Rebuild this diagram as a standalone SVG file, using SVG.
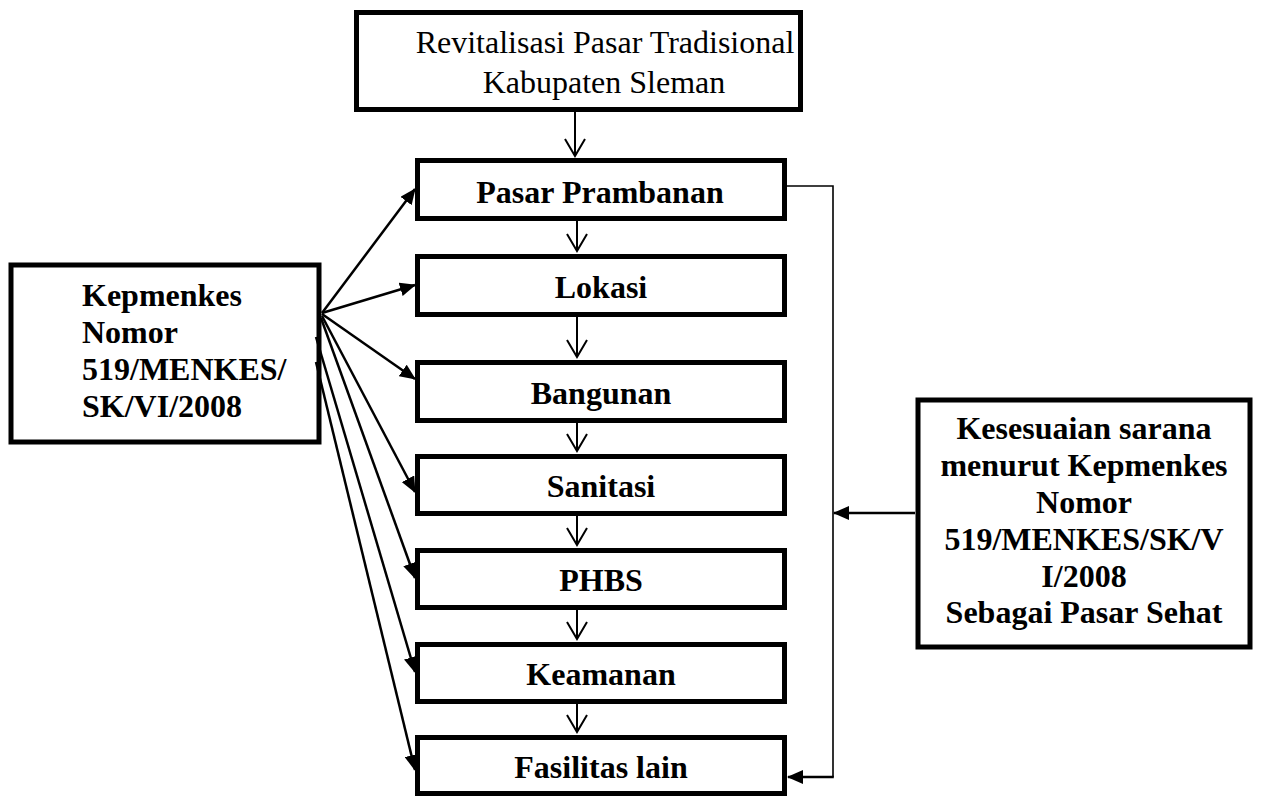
<svg xmlns="http://www.w3.org/2000/svg" width="1262" height="796" viewBox="0 0 1262 796">
<style>
.box{fill:#fff;stroke:#000;stroke-width:5}
.t{font-family:"Liberation Serif","Times New Roman",serif;font-size:32px;fill:#000}
.b{font-weight:bold}
.c{text-anchor:middle}
.fan{stroke:#000;stroke-width:2.5;fill:none;marker-end:url(#fill)}
.dn{stroke:#000;stroke-width:2;fill:none;marker-end:url(#vee)}
</style>
<defs>
<marker id="fill" markerUnits="userSpaceOnUse" viewBox="0 0 16 14" refX="15" refY="7" markerWidth="16" markerHeight="14" orient="auto">
<path d="M0,0 L16,7 L0,14 z" fill="#000"/>
</marker>
<marker id="vee" markerUnits="userSpaceOnUse" viewBox="0 0 20 24" refX="18" refY="12" markerWidth="20" markerHeight="24" orient="auto" overflow="visible">
<path d="M1,2 L18,12 L1,22" fill="none" stroke="#000" stroke-width="2"/>
</marker>
</defs>
<g id="node-top">
<rect class="box" x="356.5" y="12.5" width="444" height="97"/>
<text class="t c" x="605" y="53">Revitalisasi Pasar Tradisional</text>
<text class="t c" x="604" y="93">Kabupaten Sleman</text>
</g>
<g id="node-pasar">
<rect class="box" x="417.5" y="160.5" width="367" height="58"/>
<text class="t b c" x="600" y="203">Pasar Prambanan</text>
</g>
<g id="node-lokasi">
<rect class="box" x="417.5" y="256.5" width="367" height="58"/>
<text class="t b c" x="601" y="298">Lokasi</text>
</g>
<g id="node-bangunan">
<rect class="box" x="417.5" y="362.5" width="367" height="58"/>
<text class="t b c" x="601" y="404">Bangunan</text>
</g>
<g id="node-sanitasi">
<rect class="box" x="417.5" y="456.5" width="367" height="57"/>
<text class="t b c" x="601" y="497">Sanitasi</text>
</g>
<g id="node-phbs">
<rect class="box" x="417.5" y="550.5" width="367" height="57"/>
<text class="t b c" x="601" y="591">PHBS</text>
</g>
<g id="node-keamanan">
<rect class="box" x="417.5" y="644.5" width="367" height="57"/>
<text class="t b c" x="601" y="685">Keamanan</text>
</g>
<g id="node-fasilitas">
<rect class="box" x="417.5" y="737.5" width="367" height="56"/>
<text class="t b c" x="601" y="778">Fasilitas lain</text>
</g>
<g id="node-kepmenkes">
<rect class="box" x="11" y="265" width="308" height="177" stroke-width="5.5"/>
<text class="t b" x="82" y="306">Kepmenkes</text>
<text class="t b" x="82" y="343">Nomor</text>
<text class="t b" x="82" y="380">519/MENKES/</text>
<text class="t b" x="82" y="417">SK/VI/2008</text>
</g>
<g id="node-kesesuaian">
<rect class="box" x="918" y="400" width="332" height="247" stroke-width="5.5"/>
<text class="t b c" x="1084" y="439">Kesesuaian sarana</text>
<text class="t b c" x="1084" y="476">menurut Kepmenkes</text>
<text class="t b c" x="1084" y="513">Nomor</text>
<text class="t b c" x="1084" y="550">519/MENKES/SK/V</text>
<text class="t b c" x="1084" y="587">I/2008</text>
<text class="t b c" x="1084" y="623">Sebagai Pasar Sehat</text>
</g>
<g id="connectors">
<line class="dn" x1="575" y1="112" x2="575" y2="156"/>
<line class="dn" x1="577" y1="221" x2="577" y2="251"/>
<line class="dn" x1="577" y1="317" x2="577" y2="357"/>
<line class="dn" x1="577" y1="423" x2="577" y2="451"/>
<line class="dn" x1="577" y1="516" x2="577" y2="545"/>
<line class="dn" x1="577" y1="610" x2="577" y2="639"/>
<line class="dn" x1="577" y1="704" x2="577" y2="732"/>
<line class="fan" x1="322" y1="313" x2="415" y2="189"/>
<line class="fan" x1="322" y1="313" x2="415" y2="285"/>
<line class="fan" x1="322" y1="314" x2="415" y2="379"/>
<line class="fan" x1="322" y1="316" x2="415" y2="492"/>
<line class="fan" x1="321" y1="318" x2="415" y2="578"/>
<line class="fan" x1="316" y1="337" x2="415" y2="672"/>
<line class="fan" x1="316" y1="362" x2="415" y2="770"/>
<polyline points="787,186 833,186 833,777" fill="none" stroke="#000" stroke-width="1.6"/>
<line x1="833.8" y1="777" x2="788" y2="777" stroke="#000" stroke-width="2.5" marker-end="url(#fill)"/>
<line x1="915" y1="513" x2="834" y2="513" stroke="#000" stroke-width="2.5" marker-end="url(#fill)"/>
</g>
</svg>
